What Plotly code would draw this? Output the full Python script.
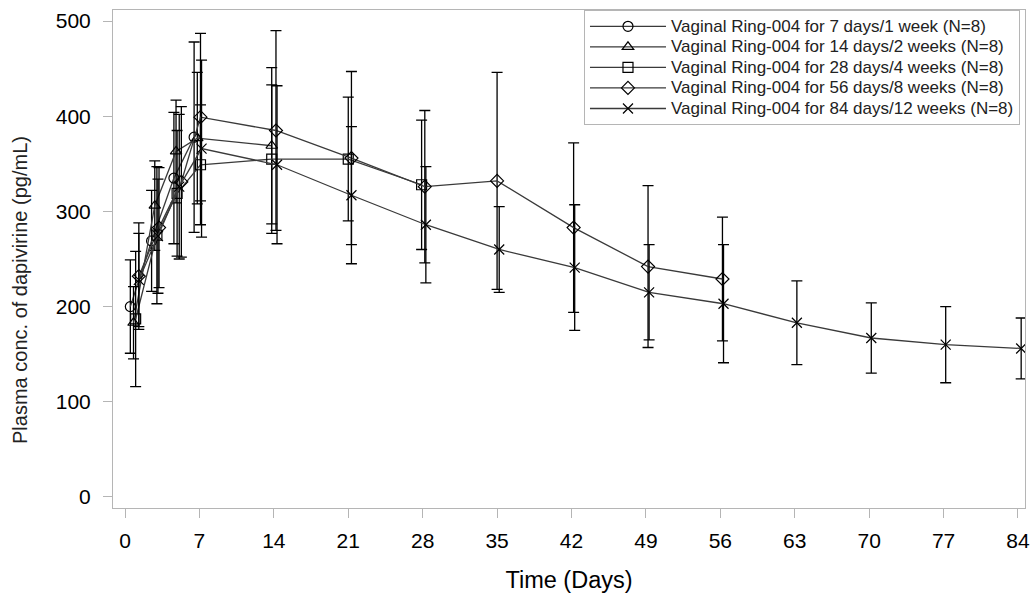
import plotly.graph_objects as go

# ---- data ----
names = [
    "Vaginal Ring-004 for 7 days/1 week (N=8)",
    "Vaginal Ring-004 for 14 days/2 weeks (N=8)",
    "Vaginal Ring-004 for 28 days/4 weeks (N=8)",
    "Vaginal Ring-004 for 56 days/8 weeks (N=8)",
    "Vaginal Ring-004 for 84 days/12 weeks (N=8)",
]
symbols = ["circle-open", "triangle-up-open", "square-open", "diamond-open", "x-thin-open"]

t_7d = [0.5, 2.5, 4.6, 6.5]
m_7d = [200, 269, 335, 378]
sd_7d = [49, 53, 69, 100]

t_14d = [0.8, 2.8, 4.8, 6.8, 13.8]
m_14d = [183, 306, 363, 377, 369]
sd_14d = [38, 47, 54, 69, 82]

t_28d = [1.0, 3.0, 4.9, 7.1, 13.8, 21.0, 27.9]
m_28d = [187, 275, 319, 349, 355, 355, 328]
sd_28d = [71, 72, 66, 63, 78, 65, 68]

t_56d = [1.3, 3.2, 5.3, 7.1, 14.2, 21.3, 28.2, 35.0, 42.2, 49.2, 56.2]
m_56d = [232, 283, 331, 399, 385, 356, 326, 332, 283, 242, 229]
sd_56d = [56, 63, 79, 88, 105, 91, 80, 114, 89, 85, 65]

t_84d = [1.3, 3.1, 5.1, 7.2, 14.3, 21.3, 28.3, 35.2, 42.3, 49.3, 56.3, 63.2, 70.2, 77.2, 84.3]
m_84d = [228, 274, 326, 366, 349, 317, 286, 260, 241, 215, 203, 183, 167, 160, 156]
sd_84d = [49, 60, 76, 93, 83, 72, 61, 45, 66, 50, 62, 44, 37, 40, 32]

x_ticks = [0, 7, 14, 21, 28, 35, 42, 49, 56, 63, 70, 77, 84]
y_ticks = [0, 100, 200, 300, 400, 500]

series = [
    (t_7d, m_7d, sd_7d),
    (t_14d, m_14d, sd_14d),
    (t_28d, m_28d, sd_28d),
    (t_56d, m_56d, sd_56d),
    (t_84d, m_84d, sd_84d),
]

FONT = "Liberation Sans, Arial, sans-serif"

fig = go.Figure()
for (t, m, sd), name, sym in zip(series, names, symbols):
    fig.add_trace(go.Scatter(
        x=t, y=m, mode="lines+markers",
        name="<span style='font-size:17px'>" + name + "</span>",
        line=dict(color="#3a3a3a", width=1.3),
        marker=dict(symbol=sym, size=10, color="black",
                    line=dict(color="black", width=1.2)),
        error_y=dict(type="data", array=sd, visible=True,
                     color="black", thickness=1.3, width=5.5),
    ))

axis_common = dict(
    showline=True, linecolor="#b5b5b5", linewidth=1, mirror=True,
    ticks="outside", tickcolor="#b5b5b5", ticklen=9, tickwidth=1,
    showgrid=False, zeroline=False, automargin=False,
    tickfont=dict(family=FONT, size=21, color="black"),
)

fig.update_layout(
    width=1034, height=597,
    paper_bgcolor="white", plot_bgcolor="white",
    margin=dict(l=113, r=9, t=10, b=89),
    font=dict(family=FONT, color="black"),
    xaxis=dict(range=[-1.13, 84.66], tickvals=x_ticks, ticklabelstandoff=5,
               title=dict(text="Time (Days)", font=dict(family=FONT, size=23.5), standoff=20),
               **axis_common),
    yaxis=dict(range=[-11.6, 511.6], tickvals=y_ticks, ticklabelstandoff=8,
               **axis_common),
    legend=dict(x=0.9945, y=1.0, xanchor="right", yanchor="top",
                bgcolor="white", bordercolor="#b5b5b5", borderwidth=1,
                font=dict(family=FONT, size=13.5, color="#222"),
                tracegroupgap=0, itemwidth=76),
    showlegend=True,
    annotations=[dict(
        text="Plasma conc. of dapivirine (pg/mL)", textangle=-90,
        xref="paper", yref="paper", x=0, y=0.4378, xshift=-93,
        xanchor="center", yanchor="middle", showarrow=False,
        font=dict(family=FONT, size=20, color="#222"),
    )],
)

# remove the default page margin so the figure fills the 1034x597 window exactly
fig.write_html("out.html",
               config={"displayModeBar": False},
               post_script="document.body.style.margin='0';document.body.style.overflow='hidden';")
